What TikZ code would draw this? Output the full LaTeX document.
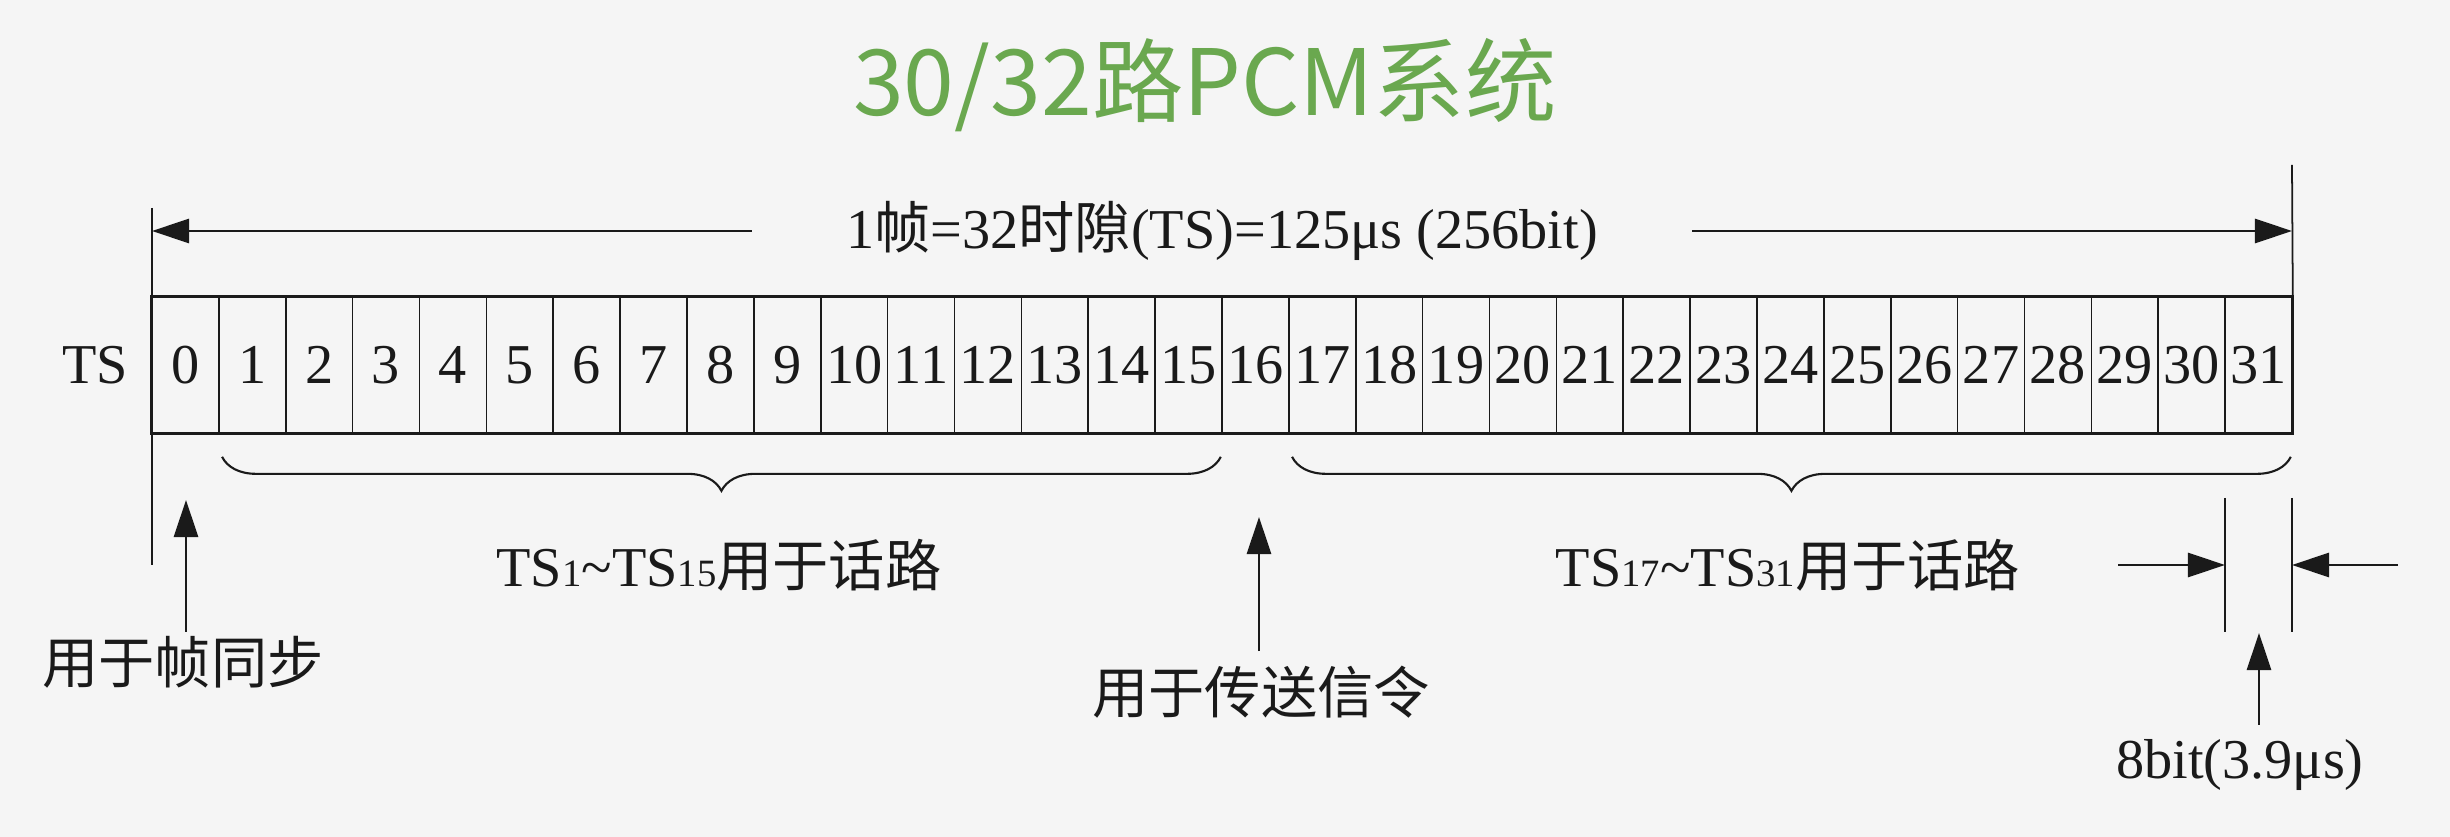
\documentclass[tikz,border=0pt]{standalone}
\usepackage{fontspec}
\setmainfont{Liberation Serif}
\newfontfamily\cjk{Noto Sans CJK SC}
\usepackage{tikz}
\usetikzlibrary{positioning,arrows.meta,decorations.pathreplacing}
\usepackage{xcolor}
\definecolor{ink}{HTML}{1A1A1A}
\definecolor{leaf}{HTML}{6AA84F}
\definecolor{paper}{HTML}{F5F5F5}
\newcommand{\tsno}[1]{{\fontsize{11}{11}\selectfont #1}}

\begin{document}
\begin{tikzpicture}[x=0.01cm,y=-0.01cm,font=\fontsize{16}{19}\selectfont,ink,
  slot/.style={draw,line width=0.45pt,minimum width=0.66875cm,minimum height=1.36cm,inner sep=0pt},
  tip/.style={-{Triangle[length=3.7mm,width=2.4mm]},line width=0.8pt},
  rule/.style={line width=0.5pt},
  curly/.style={decorate,decoration={brace,mirror,amplitude=0.34cm},line width=0.6pt},
  note/.style={inner sep=1pt}]
  \fill[paper] (0,0) rectangle (2450,837);
  \useasboundingbox (0,0) rectangle (2450,837);
  \node[leaf,font=\cjk\fontsize{26}{30}\selectfont] (title) at (1205,85) {30/32路PCM系统};

  % the 32 time slots
  \foreach \i in {0,...,31}
    \node[slot] (c\i) at ({152+66.875*(\i+0.5)},365) {\i};
  \draw[line width=0.8pt] (c0.north west) rectangle (c31.south east);
  \node[left=3pt of c0] (tsname) {TS};

  % frame length
  \coordinate (ltop) at (152,208);
  \coordinate (lbot) at (152,565);
  \coordinate (rtop) at (2292,165);
  \draw[rule] (ltop) -- (lbot);
  \draw[rule] (rtop) -- (c31.north east);
  \node[note] (frame) at (1222,231) {1{\cjk 帧}=32{\cjk 时隙}(TS)=125μs (256bit)};
  \draw[tip] ([xshift=-0.9cm]frame.west) -- (ltop |- frame.west);
  \draw[tip] ([xshift=0.9cm]frame.east) -- (rtop |- frame.east);

  % speech channels
  \draw[curly] ([shift={(4,23)}]c1.south west) -- ([shift={(-2,23)}]c15.south east);
  \draw[curly] ([shift={(4,23)}]c17.south west) -- ([shift={(-2,23)}]c31.south east);
  \node (voiceA) at (719,565) {TS\tsno{1}\textasciitilde TS\tsno{15}{\cjk 用于话路}};
  \node (voiceB) at (1788,565) {TS\tsno{17}\textasciitilde TS\tsno{31}{\cjk 用于话路}};

  % TS0 and TS16
  \node[note] (sync) at (183,662) {\cjk 用于帧同步};
  \coordinate (syncend) at (186,500);
  \draw[tip] (sync.north -| syncend) -- (syncend);
  \node[note] (sig) at (1261,692) {\cjk 用于传送信令};
  \coordinate (sigend) at (1259,517);
  \draw[tip] ([yshift=3pt]sig.north -| sigend) -- (sigend);

  % one slot width
  \coordinate (wl) at (2225,498);
  \coordinate (wr) at (2292,498);
  \draw[rule] (wl) -- ++(0,134);
  \draw[rule] (wr) -- ++(0,134);
  \coordinate (inl) at (2118,565);
  \coordinate (inr) at (2398,565);
  \draw[tip] (inl) -- (wl |- inl);
  \draw[tip] (inr) -- (wr |- inr);
  \node[note] (width) at (2240,765) {8bit(3.9μs)};
  \coordinate (widthend) at (2259,633);
  \draw[tip] ([yshift=3pt]width.north -| widthend) -- (widthend);
\end{tikzpicture}
\end{document}
